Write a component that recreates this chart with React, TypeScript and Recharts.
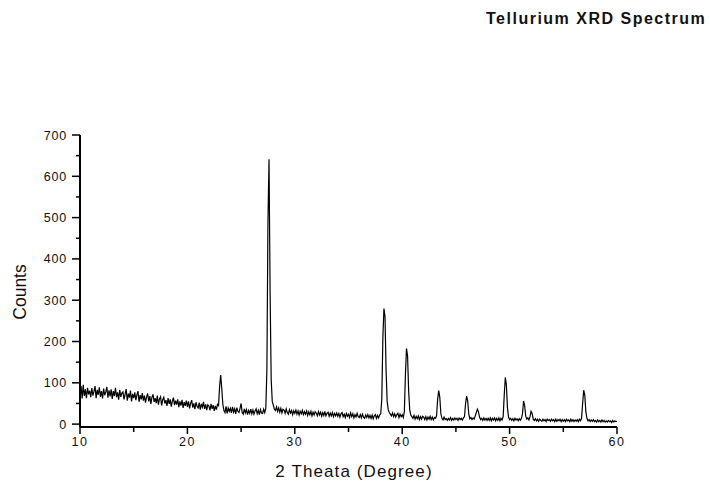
import { Line, LineChart, XAxis, YAxis } from "recharts";

// Te powder XRD scan, 0.1° step from 10° to 60°
const START_ANGLE = 10;
const STEP = 0.1;

const counts10to20 = [
  70, 92, 62, 95, 68, 84, 63, 88, 72, 81,
  65, 87, 69, 79, 92, 63, 83, 71, 89, 66,
  80, 62, 86, 70, 78, 90, 64, 82, 67, 84,
  61, 80, 68, 88, 65, 77, 59, 83, 66, 75,
  78, 60, 72, 85, 57, 74, 64, 81, 55, 73,
  63, 77, 58, 71, 80, 54, 70, 60, 75, 57,
  69, 52, 66, 74, 55, 68, 49, 65, 72, 54,
  63, 51, 69, 47, 61, 66, 45, 59, 65, 50,
  58, 44, 63, 49, 60, 42, 56, 64, 46, 57,
  47, 60, 41, 55, 45, 59, 39, 53, 44, 57,
];
const counts20to30 = [
  42, 55, 38, 51, 58, 40, 50, 36, 53, 43,
  39, 52, 35, 49, 41, 54, 37, 48, 34, 47,
  44, 33, 49, 37, 46, 32, 44, 35, 48, 45,
  92, 119, 86, 48, 33, 28, 43, 26, 39, 31,
  38, 27, 42, 29, 37, 25, 40, 31, 28, 38,
  50, 28, 24, 37, 27, 35, 23, 33, 26, 36,
  25, 34, 24, 32, 37, 25, 33, 23, 35, 27,
  26, 36, 28, 38, 130, 490, 641, 320, 110, 55,
  46, 36, 33, 42, 31, 39, 29, 38, 27, 36,
  34, 26, 37, 28, 24, 35, 27, 33, 23, 32,
];
const counts30to40 = [
  26, 34, 24, 32, 22, 31, 25, 33, 23, 30,
  24, 32, 21, 30, 23, 31, 20, 29, 22, 30,
  27, 20, 30, 22, 29, 19, 28, 21, 31, 20,
  26, 29, 19, 27, 20, 28, 18, 26, 20, 27,
  19, 26, 17, 25, 28, 18, 24, 16, 26, 19,
  24, 16, 27, 18, 25, 15, 23, 17, 26, 18,
  16, 23, 15, 24, 17, 14, 22, 16, 23, 15,
  21, 14, 22, 13, 20, 23, 14, 21, 15, 22,
  25, 60, 210, 280, 260, 130, 55, 35, 28, 24,
  20, 27, 18, 25, 17, 23, 26, 16, 24, 18,
];
const counts40to50 = [
  23, 16, 30, 120, 183, 165, 80, 35, 22, 18,
  14, 21, 12, 19, 13, 20, 11, 18, 12, 19,
  17, 11, 18, 10, 17, 12, 19, 11, 17, 10,
  16, 14, 20, 60, 81, 65, 25, 14, 10, 17,
  11, 13, 9, 14, 10, 16, 9, 14, 10, 15,
  11, 14, 9, 15, 11, 14, 10, 15, 18, 50,
  68, 55, 24, 13, 16, 11, 15, 12, 20, 28,
  36, 30, 17, 11, 14, 9, 15, 10, 14, 9,
  14, 9, 15, 8, 14, 10, 15, 8, 14, 9,
  15, 8, 14, 10, 18, 70, 113, 95, 40, 17,
];
const counts50to60 = [
  11, 14, 9, 13, 8, 14, 10, 13, 8, 13,
  9, 14, 25, 56, 45, 20, 12, 15, 10, 18,
  31, 26, 12, 9, 13, 8, 12, 7, 12, 9,
  7, 12, 8, 11, 6, 12, 9, 11, 7, 12,
  8, 11, 6, 12, 7, 11, 8, 12, 6, 11,
  7, 11, 6, 12, 8, 10, 6, 12, 7, 11,
  6, 10, 7, 11, 6, 12, 8, 14, 50, 82,
  70, 30, 14, 8, 11, 6, 10, 7, 11, 6,
  9, 5, 10, 6, 9, 5, 10, 6, 9, 5,
  8, 5, 9, 6, 8, 4, 9, 5, 8, 6,
  7,
];

const xTicks = [10, 15, 20, 25, 30, 35, 40, 45, 50, 55, 60];
const yTicks = [0, 50, 100, 150, 200, 250, 300, 350, 400, 450, 500, 550, 600, 650, 700];

const allCounts = [...counts10to20, ...counts20to30, ...counts30to40, ...counts40to50, ...counts50to60];
const data = allCounts.map((c, i) => ({
  angle: Math.round((START_ANGLE + i * STEP) * 10) / 10,
  counts: c,
}));

const FONT = "'Liberation Sans', Arial, sans-serif";
const INK = "#111";

function YTick({ x, y, payload }: any) {
  const major = payload.value % 100 === 0;
  return (
    <g>
      <line x1={x - (major ? 8 : 4)} x2={x} y1={y} y2={y} stroke="#000" strokeWidth={1.5} />
      {major && (
        <text x={x - 13} y={y} dy={4.5} textAnchor="end" fill={INK} fontSize={12.5} fontFamily={FONT} letterSpacing={0.8}>
          {payload.value}
        </text>
      )}
    </g>
  );
}

function XTick({ x, y, payload }: any) {
  const major = payload.value % 10 === 0;
  return (
    <g>
      <line x1={x} x2={x} y1={y} y2={y + (major ? 7 : 5)} stroke="#000" strokeWidth={1.5} />
      {major && (
        <text x={x} y={y + 19} textAnchor="middle" fill={INK} fontSize={12.5} fontFamily={FONT} letterSpacing={1.5}>
          {payload.value}
        </text>
      )}
    </g>
  );
}

export default function App() {
  return (
    <div style={{ position: "absolute", left: 0, top: 0, width: 710, height: 485, background: "#fff", fontFamily: FONT }}>
      <LineChart
        width={710}
        height={485}
        data={data}
        margin={{ top: 135, right: 93, bottom: 57, left: 79 }}
      >
        <XAxis
          dataKey="angle"
          type="number"
          domain={[10, 60]}
          ticks={xTicks}
          height={1}
          tickSize={0}
          tickMargin={0}
          tickLine={false}
          axisLine={{ stroke: "#000", strokeWidth: 2 }}
          tick={<XTick />}
          interval={0}
          allowDataOverflow
        />
        <YAxis
          type="number"
          domain={[-7, 700]}
          ticks={yTicks}
          width={1}
          tickSize={0}
          tickMargin={0}
          tickLine={false}
          axisLine={{ stroke: "#000", strokeWidth: 2 }}
          tick={<YTick />}
          interval={0}
          allowDataOverflow
        />
        <Line
          type="linear"
          dataKey="counts"
          stroke="#000"
          strokeWidth={1.2}
          dot={false}
          isAnimationActive={false}
        />
      </LineChart>
      <div style={{ position: "absolute", left: 486, top: 10, fontSize: 16, fontWeight: 700, color: INK, whiteSpace: "nowrap", letterSpacing: 1.5 }}>
        Tellurium XRD Spectrum
      </div>
      <div
        style={{
          position: "absolute",
          left: 20,
          top: 292,
          transform: "translate(-50%, -50%) rotate(-90deg)",
          fontSize: 17.5,
          color: INK,
          whiteSpace: "nowrap",
        }}
      >
        Counts
      </div>
      <div
        style={{
          position: "absolute",
          left: 354,
          top: 472,
          transform: "translate(-50%, -50%)",
          fontSize: 17,
          color: INK,
          whiteSpace: "nowrap",
          letterSpacing: 1.1,
        }}
      >
        2 Theata (Degree)
      </div>
    </div>
  );
}
